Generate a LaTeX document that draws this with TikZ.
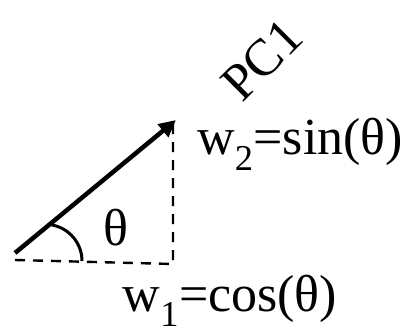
\documentclass[tikz,border=0pt]{standalone}
\usepackage{fontspec}
\setmainfont{Liberation Serif}
\usetikzlibrary{arrows.meta}
\begin{document}
\begin{tikzpicture}[x=1pt,y=1pt,
  lbl/.style={inner sep=0pt,font=\fontsize{52}{62}\selectfont},
  vec/.style={line width=4.5pt,-{Triangle[length=17pt,width=16pt]}},
  proj/.style={line width=2.4pt,dash pattern=on 10pt off 8pt},
  anglearc/.style={line width=3pt}]
\useasboundingbox (0,0) rectangle (406,334);
\coordinate (O) at (15,81);
\coordinate (T) at (176,214);
\coordinate (H0) at (15,74);
\coordinate (C) at (173,70);
\coordinate (V1) at (173,212);
\coordinate (A0) at (82,73);
\draw[proj] (H0) -- (C) -- (V1);
\draw[vec] (O) -- (T);
\draw[anglearc] (A0) arc[start angle=0,end angle=80,radius=36.6];
\node[lbl] (theta) at (116,106) {θ};
\node[lbl,anchor=base west] (w2) at (197,179) {w\textsubscript{2}=sin(θ)};
\node[lbl,anchor=base] (w1) at (230,23) {w\textsubscript{1}=cos(θ)};
\node[lbl,rotate=45] (pc) at (262,274) {PC1};
\end{tikzpicture}
\end{document}
